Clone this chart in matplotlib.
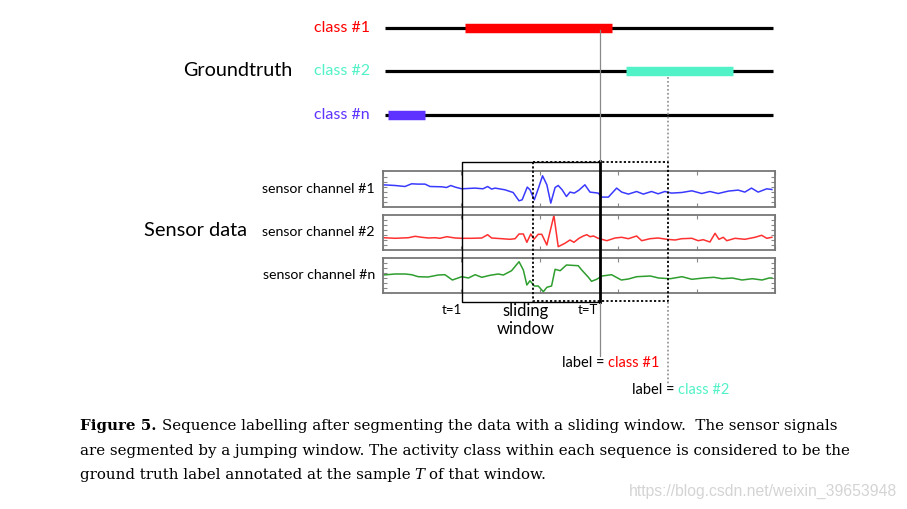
import matplotlib
matplotlib.use("Agg")
import matplotlib.pyplot as plt

W, H = 907, 509

# ground truth intervals (sample units 0..100)
class_names = ["class #1", "class #2", "class #n"]
class_colors = ["#ff0000", "#52f2c8", "#5f33ff"]
class_spans = [(20.9, 58.4), (62.0, 89.3), (1.3, 10.7)]

# sensor channels
t1 = [0, 3.1, 5.6, 7.3, 8.9, 10.7, 12.0, 15.0, 16.2, 17.3, 18.4, 20.1, 23.5, 25.5, 26.7, 27.7,
      28.6, 31.1, 33.2, 34.7, 35.5, 36.8, 37.5, 38.6, 39.6, 40.7, 41.8, 42.8, 43.9, 44.7, 45.7,
      46.8, 47.7, 48.8, 50.0, 51.5, 52.8, 54.9, 55.8, 57.5, 59.6, 60.9, 62.6, 64.7, 66.4, 68.5,
      70.2, 71.9, 73.6, 76.2, 78.8, 81.3, 83.4, 85.5, 88.1, 90.6, 92.3, 94.0, 95.7, 97.9, 99.2]
v1 = [21.7, 21.0, 20.0, 22.7, 22.4, 22.4, 20.0, 19.7, 19.0, 21.0, 19.4, 17.7, 18.4, 17.7, 20.0, 17.4,
      18.4, 16.7, 14.0, 5.7, 6.7, 19.4, 16.7, 6.7, 17.7, 30.7, 21.7, 3.4, 19.0, 21.0, 16.7,
      10.0, 14.4, 13.4, 16.4, 21.7, 14.4, 13.4, 9.4, 9.4, 18.4, 14.4, 12.4, 15.0, 12.4, 15.0,
      12.7, 15.0, 13.4, 14.0, 15.7, 13.0, 15.0, 13.0, 15.4, 16.4, 14.4, 18.4, 14.4, 17.7, 17.0]

t2 = [0, 3.1, 6.5, 8.2, 9.9, 11.6, 13.3, 14.5, 16.3, 18.4, 20.2, 22.6, 25.2, 26.7, 27.7, 30.3,
      32.4, 33.7, 34.7, 35.8, 36.7, 37.7, 38.5, 39.6, 40.5, 41.8, 43.6, 44.7, 46.4, 47.7, 48.7,
      50.0, 51.1, 52.0, 52.8, 53.7, 54.9, 57.1, 59.2, 60.9, 62.6, 64.7, 66.0, 68.1, 70.2, 72.4,
      74.5, 76.2, 78.8, 80.4, 81.7, 83.4, 84.7, 85.7, 86.8, 87.7, 89.8, 92.3, 94.9, 96.6, 97.9, 99.2]
v2 = [12.3, 11.7, 12.3, 13.7, 12.7, 12.0, 12.3, 11.7, 13.3, 12.0, 11.7, 11.7, 12.0, 15.3, 12.0, 11.3,
      10.7, 11.3, 16.0, 16.0, 7.7, 16.0, 10.7, 15.7, 15.7, 5.0, 34.5, 3.3, 6.7, 10.0, 7.7,
      11.7, 14.0, 15.3, 13.3, 14.0, 11.7, 9.3, 12.0, 12.7, 11.3, 14.0, 9.3, 11.3, 12.0, 10.7,
      10.0, 11.3, 11.7, 9.3, 10.3, 8.0, 16.7, 10.7, 12.7, 9.3, 11.7, 10.7, 12.7, 14.7, 11.7, 12.7]

t3 = [0, 3.1, 5.6, 7.3, 9.0, 11.5, 14.1, 15.8, 17.7, 20.1, 21.8, 23.5, 25.2, 27.3, 29.4, 30.7,
      32.8, 34.7, 35.8, 36.7, 37.5, 38.6, 39.6, 40.9, 41.8, 43.0, 43.9, 45.2, 46.8, 49.8, 50.7,
      52.4, 53.2, 54.5, 55.9, 58.3, 60.8, 62.6, 64.7, 68.2, 70.3, 73.3, 76.3, 78.8, 81.8, 84.4,
      86.5, 89.1, 91.6, 94.2, 96.7, 98.5, 99.2]
v3 = [18.3, 19.3, 19.3, 18.6, 16.6, 16.3, 18.3, 18.6, 13.3, 16.6, 15.3, 18.6, 16.0, 18.0, 19.3, 18.3,
      22.6, 31.6, 23.3, 8.3, 12.6, 7.3, 7.3, 1.6, 6.0, 7.3, 24.0, 22.6, 28.3, 27.6, 23.3,
      16.0, 12.0, 14.0, 17.3, 18.6, 13.3, 14.3, 16.6, 17.3, 15.3, 14.6, 16.6, 14.0, 15.3, 16.0,
      14.6, 15.3, 13.3, 14.6, 13.3, 15.3, 15.3]

channels = [(t1, v1, "#3a3aff", "sensor channel #1"),
            (t2, v2, "#ff3030", "sensor channel #2"),
            (t3, v3, "#2e9e2e", "sensor channel #n")]

# windows in sample units
win1 = (20.2, 55.4)
win2 = (38.3, 72.7)

X0, X1 = 383, 775


def px_axes(x0, y0, x1, y1, **kw):
    return fig.add_axes([x0 / W, 1 - y1 / H, (x1 - x0) / W, (y1 - y0) / H], **kw)


def tx(t):
    return X0 + t * (X1 - X0) / 100.0


fig = plt.figure(figsize=(W / 100, H / 100), dpi=100)
fig.patch.set_facecolor("white")
lab_font = "Lato"

# groundtruth rows
gt = px_axes(X0, 5.9, X1, 136.7)
gt.set_xlim(0, 100)
gt.set_ylim(2.5, -0.5)
gt.axis("off")
for i, (name, col, span) in enumerate(zip(class_names, class_colors, class_spans)):
    gt.plot([0.5, 99.5], [i, i], color="black", lw=2.3, solid_capstyle="butt")
    gt.plot(span, [i, i], color=col, lw=6.8, solid_capstyle="butt")

# sensor panels
panel_y = [(171, 206.5), (214.5, 250), (257.5, 293.3)]
for (t, v, col, name), (y0, y1) in zip(channels, panel_y):
    ax = px_axes(X0, y0, X1, y1)
    ax.plot(t, v, color=col, lw=1.1)
    ax.set_xlim(0, 100)
    ax.set_ylim(0, y1 - y0)
    ax.set_xticks(range(0, 101, 20))
    ax.set_yticks(range(5, 31, 5))
    ax.tick_params(which="both", direction="in", top=True, right=True,
                   labelleft=False, labelbottom=False, length=3, width=0.8, color="#888888")
    for s in ax.spines.values():
        s.set_color("#777777")
        s.set_linewidth(1.3)
    fig.text((X0 - 8) / W, 1 - ((y0 + y1) / 2) / H, name, ha="right", va="center",
             fontsize=10.2, family=lab_font)

# overlay for windows, guide lines and labels
ov = fig.add_axes([0, 0, 1, 1], zorder=10)
ov.set_xlim(0, W)
ov.set_ylim(H, 0)
ov.axis("off")
ov.patch.set_visible(False)

a, b = tx(win1[0]), tx(win1[1])
ov.plot([b, a, a, b], [162, 162, 302, 302], color="black", lw=1.0)
ov.plot([b, b], [161, 302], color="black", lw=2.0)
ov.plot([b, b], [30, 161], color="#8a8a8a", lw=0.9)
ov.plot([b, b], [303, 356], color="#8a8a8a", lw=0.9)

c, d = tx(win2[0]), tx(win2[1])
ov.plot([c, c, d, d, c], [162, 301, 301, 162, 162], color="black", lw=1.3, ls=(0, (1.2, 1.2)))
ov.plot([d, d], [77, 161], color="#999999", lw=1.3, ls=(0, (1, 1.2)))
ov.plot([d, d], [302, 384], color="#999999", lw=1.3, ls=(0, (1, 1.2)))

# texts
def ftext(x, y, s, **kw):
    return fig.text(x / W, 1 - y / H, s, **kw)


for name, col, y in zip(class_names, class_colors, [27.7, 71, 115]):
    ftext(370, y, name, ha="right", va="center", color=col, fontsize=11.5, family=lab_font)
ftext(292, 71, "Groundtruth", ha="right", va="center", fontsize=14.2, family=lab_font)
ftext(247, 231, "Sensor data", ha="right", va="center", fontsize=14.4, family=lab_font)
ftext(452, 310, "t=1", ha="center", va="center", fontsize=9.5, family=lab_font)
ftext(588, 310, "t=T", ha="center", va="center", fontsize=9.5, family=lab_font)
ftext(526, 320, "sliding\nwindow", ha="center", va="center", fontsize=12, family=lab_font,
      linespacing=1.1)

renderer = fig.canvas.get_renderer()


def run_text(x, y, pieces, gap=0.0, **kw):
    for s, extra in pieces:
        t = ftext(x, y, s, ha="left", va="center", **kw, **extra)
        x += t.get_window_extent(renderer).width + gap
    return x


run_text(562, 363, [("label =", {}), ("class #1", {"color": class_colors[0]})], gap=4,
         fontsize=10.5, family=lab_font)
run_text(632, 390, [("label =", {}), ("class #2", {"color": class_colors[1]})], gap=4,
         fontsize=10.5, family=lab_font)

cap = dict(fontsize=10.8, family="DejaVu Serif")
run_text(80, 426, [("Figure 5.", {"weight": "bold"}),
                   ("Sequence labelling after segmenting the data with a sliding window.  The sensor signals", {})],
         gap=6, **cap)
ftext(80, 451, "are segmented by a jumping window. The activity class within each sequence is considered to be the",
      ha="left", va="center", **cap)
run_text(80, 475, [("ground truth label annotated at the sample", {}), ("T", {"style": "italic"}),
                   ("of that window.", {})], gap=4, **cap)

ftext(897, 491, "https://blog.csdn.net/weixin_39653948", ha="right", va="center",
      fontsize=11.3, color="#d4d4d4", family="Liberation Sans")

fig.savefig("out.png", dpi=100)
